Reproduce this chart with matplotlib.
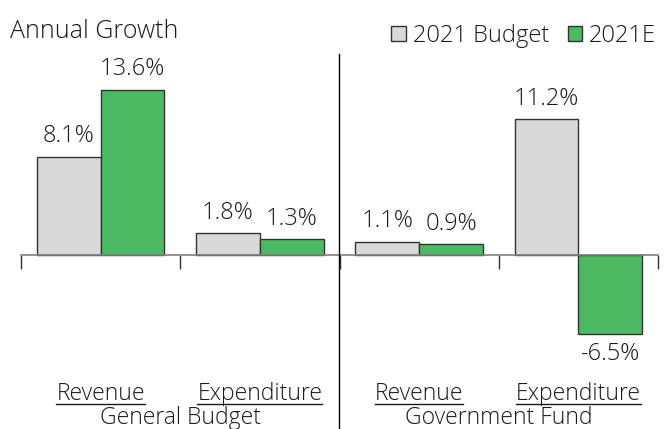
import matplotlib
matplotlib.use("Agg")
import matplotlib.pyplot as plt
from matplotlib.patches import Patch
from matplotlib.lines import Line2D
from matplotlib.transforms import blended_transform_factory
import numpy as np

# data
categories = ["Revenue", "Expenditure", "Revenue", "Expenditure"]
groups = ["General Budget", "Government Fund"]
budget_2021 = [8.1, 1.8, 1.1, 11.2]
estimate_2021 = [13.6, 1.3, 0.9, -6.5]
series_names = ["2021 Budget", "2021E"]

plt.rcParams['font.family'] = ['Open Sans', 'DejaVu Sans']
plt.rcParams['font.weight'] = 'light'
txt_color = "#1a1a1a"
gray = "#d9d9d9"
green = "#4cba62"
edge = "#333333"

W, H = 667, 429
fig = plt.figure(figsize=(W / 100, H / 100), dpi=100)

# axes placed by pixel: zero line at y=255, ~12.15 px per %
top_px, bot_px, zero_px, scale = 55, 380, 255, 12.15
ax = fig.add_axes([21 / W, 1 - bot_px / H, 637 / W, (bot_px - top_px) / H])
ax.set_ylim(-(bot_px - zero_px) / scale, (zero_px - top_px) / scale)
ax.set_xlim(-0.5, 3.5)

x = np.arange(len(categories))
bw = 0.4
ax.bar(x - bw / 2, budget_2021, bw, color=gray, edgecolor=edge, linewidth=1, zorder=2)
ax.bar(x + bw / 2, estimate_2021, bw, color=green, edgecolor=edge, linewidth=1, zorder=2)

# value labels
for xs, vals in [(x - bw / 2, budget_2021), (x + bw / 2, estimate_2021)]:
    for xi, v in zip(xs, vals):
        if v >= 0:
            ax.annotate(f"{v:.1f}%", (xi, v), xytext=(0, 6), textcoords="offset points",
                        ha="center", va="bottom", fontsize=17, color=txt_color)
        else:
            ax.annotate(f"{v:.1f}%", (xi, v), xytext=(0, -6), textcoords="offset points",
                        ha="center", va="top", fontsize=17, color=txt_color)

# axis: only a zero line with ticks at the category borders
for s in ["top", "right", "left"]:
    ax.spines[s].set_visible(False)
ax.spines["bottom"].set_position(("data", 0))
ax.spines["bottom"].set_color("#808080")
ax.spines["bottom"].set_linewidth(1.2)
ax.set_xticks(np.arange(-0.5, 4, 1))
ax.set_xticklabels([])
ax.tick_params(axis="x", direction="out", length=10, width=1, color="#333333")
ax.set_yticks([])

# vertical divider between the two groups
fig.add_artist(Line2D([339 / W, 339 / W], [0, 1 - 54 / H], color="black", linewidth=1))

# category labels (underlined) and group labels
tr = blended_transform_factory(ax.transData, fig.transFigure)
cat_texts = []
for xi, c in zip(x, categories):
    t = ax.text(xi, 1 - 400 / H, c, transform=tr, ha="center", va="baseline",
                fontsize=16.5, color=txt_color)
    cat_texts.append(t)
for gx, g in zip([0.5, 2.5], groups):
    ax.text(gx, 1 - 424 / H, g, transform=tr, ha="center", va="baseline",
            fontsize=16.5, color=txt_color)

fig.canvas.draw()
r = fig.canvas.get_renderer()
for t in cat_texts:
    bb = t.get_window_extent(renderer=r)
    yb = 1 - 404 / H
    fig.add_artist(Line2D([bb.x0 / W, bb.x1 / W], [yb, yb], color=txt_color, linewidth=1))

fig.text(10 / W, 1 - 38 / H, "Annual Growth", ha="left", va="baseline", fontsize=18, color=txt_color)

handles = [Patch(facecolor=gray, edgecolor=edge, linewidth=1),
           Patch(facecolor=green, edgecolor=edge, linewidth=1)]
fig.legend(handles, series_names, loc="center right", bbox_to_anchor=(656 / W, 1 - 36 / H),
           ncol=2, frameon=False, fontsize=17, handlelength=0.6, handleheight=0.6,
           handletextpad=0.3, columnspacing=0.8, borderaxespad=0, borderpad=0,
           labelcolor=txt_color)

fig.savefig("out.png", dpi=100)
